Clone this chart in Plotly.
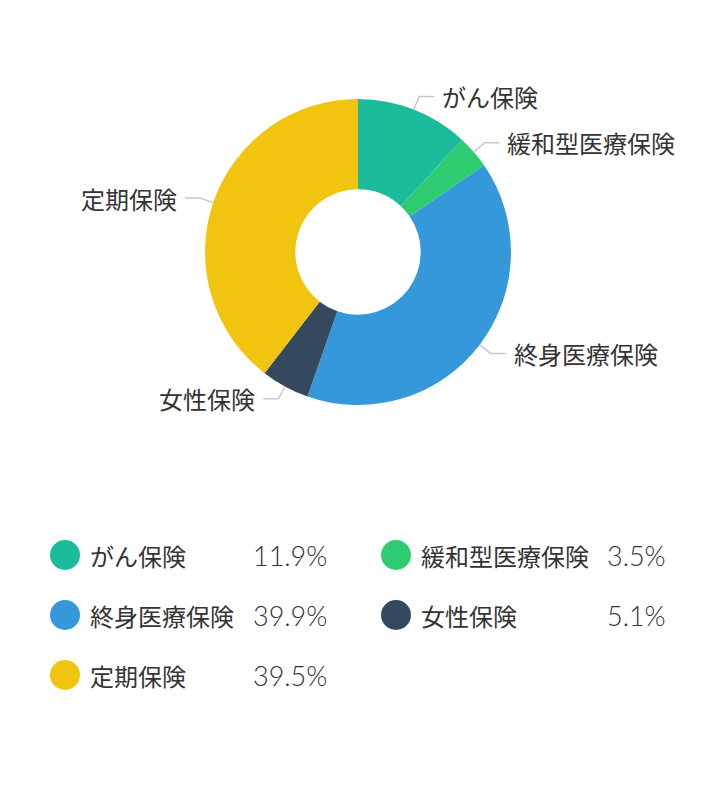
import math
import plotly.graph_objects as go

categories = ["がん保険", "緩和型医療保険", "終身医療保険", "女性保険", "定期保険"]
values = [11.9, 3.5, 39.9, 5.1, 39.5]
colors = ["#1abc9c", "#2ecc71", "#3498db", "#34495e", "#f1c40f"]
value_labels = ["11.9%", "3.5%", "39.9%", "5.1%", "39.5%"]

W, H = 716, 800
OFF = 8  # page body margin offset
CX, CY, R = 358, 252, 153
HOLE = 0.41
FONT = "Noto Sans CJK JP, Noto Sans, sans-serif"
TEXT = "#333333"


def px(x):
    return (x - OFF) / W


def py(y):
    return 1 - (y - OFF) / H


fig = go.Figure()
fig.add_trace(go.Pie(
    labels=categories,
    values=values,
    marker=dict(colors=colors, line=dict(width=0)),
    hole=HOLE,
    sort=False,
    direction="clockwise",
    rotation=0,
    textinfo="none",
    hoverinfo="label+percent",
    showlegend=False,
    domain=dict(x=[px(CX - R), px(CX + R)], y=[py(CY + R), py(CY - R)]),
))

shapes = []
annotations = []

# outside labels with leader lines, positioned from slice mid-angles
total = sum(values)
cum = 0.0
for name, v in zip(categories, values):
    mid = (cum + v / 2) / total * 2 * math.pi
    cum += v
    s, c = math.sin(mid), math.cos(mid)
    x0, y0 = CX + R * s, CY - R * c
    x1, y1 = CX + (R + 14) * s, CY - (R + 14) * c
    side = 1 if s >= 0 else -1
    x2 = x1 + side * 15
    shapes.append(dict(
        type="path", xref="paper", yref="paper",
        path=f"M {px(x0)} {py(y0)} L {px(x1)} {py(y1)} L {px(x2)} {py(y1)}",
        line=dict(color="#c8c8c8", width=1.5),
    ))
    annotations.append(dict(
        x=px(x2 + side * 6), y=py(y1), xref="paper", yref="paper",
        text=name, showarrow=False,
        xanchor="left" if side > 0 else "right", yanchor="middle",
        font=dict(family=FONT, size=24, color=TEXT),
    ))

# custom legend grid
col_circle = [65, 396]
col_label = [88, 419]
col_value = [329, 668]
row_y = [555, 615, 675]
for i, (name, col, val) in enumerate(zip(categories, colors, value_labels)):
    r, k = divmod(i, 2)
    y = row_y[r]
    shapes.append(dict(
        type="circle", xref="paper", yref="paper",
        x0=px(col_circle[k] - 15), x1=px(col_circle[k] + 15),
        y0=py(y + 15), y1=py(y - 15),
        fillcolor=col, line=dict(width=0),
    ))
    annotations.append(dict(
        x=px(col_label[k]), y=py(y), xref="paper", yref="paper",
        text=name, showarrow=False, xanchor="left", yanchor="middle",
        font=dict(family=FONT, size=24, color=TEXT),
    ))
    annotations.append(dict(
        x=px(col_value[k]), y=py(y), xref="paper", yref="paper",
        text=val, showarrow=False, xanchor="right", yanchor="middle",
        font=dict(family="Lato, Noto Sans, sans-serif", size=27, color=TEXT, weight=300),
    ))

fig.update_layout(
    width=W, height=H,
    margin=dict(l=0, r=0, t=0, b=0),
    paper_bgcolor="white", plot_bgcolor="white",
    shapes=shapes, annotations=annotations,
)

fig.write_html("out.html")
